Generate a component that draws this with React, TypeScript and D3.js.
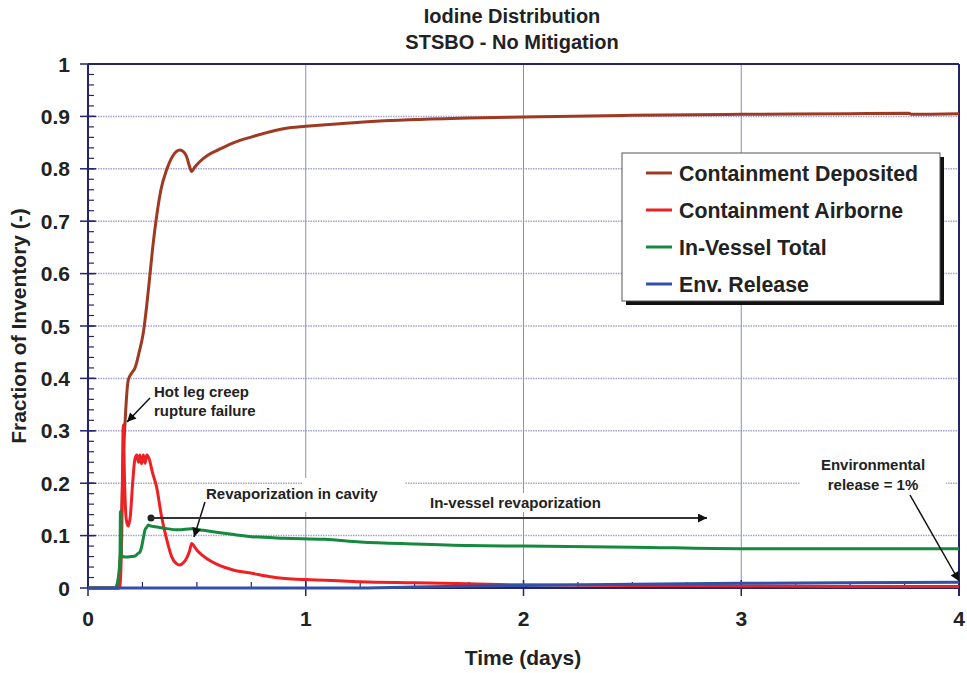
import React from 'react';
import * as d3 from 'd3';

const W = 967;
const H = 673;
const margin = { top: 64, right: 8, bottom: 85, left: 88 };

// [time (days), fraction]
const deposited: [number, number][] = [
  [0, 0], [0.138, 0], [0.15, 0.08], [0.162, 0.25], [0.17, 0.315], [0.178, 0.37], [0.185, 0.397],
  [0.2, 0.41], [0.216, 0.42], [0.235, 0.45], [0.254, 0.487], [0.27, 0.54], [0.285, 0.6],
  [0.3, 0.66], [0.315, 0.709], [0.335, 0.76], [0.361, 0.798], [0.39, 0.825], [0.422, 0.836],
  [0.44, 0.832], [0.453, 0.823], [0.466, 0.805], [0.476, 0.795], [0.49, 0.803], [0.514, 0.814],
  [0.55, 0.826], [0.598, 0.836], [0.67, 0.85], [0.752, 0.861], [0.83, 0.87], [0.905, 0.877],
  [1.0, 0.881], [1.088, 0.884], [1.25, 0.889], [1.5, 0.894], [1.75, 0.897], [2, 0.899],
  [2.5, 0.902], [3, 0.904], [3.5, 0.905], [3.77, 0.906], [3.78, 0.904], [4, 0.905],
];

const airborne: [number, number][] = [
  [0, 0], [0.145, 0], [0.155, 0.1], [0.162, 0.311], [0.168, 0.2], [0.176, 0.13], [0.185, 0.118],
  [0.195, 0.14], [0.205, 0.2], [0.215, 0.245], [0.224, 0.254], [0.232, 0.24], [0.238, 0.254],
  [0.246, 0.237], [0.254, 0.254], [0.262, 0.238], [0.27, 0.254], [0.282, 0.245], [0.295, 0.222],
  [0.315, 0.193], [0.338, 0.136], [0.36, 0.095], [0.384, 0.06], [0.405, 0.047], [0.422, 0.044],
  [0.44, 0.049], [0.453, 0.057], [0.466, 0.07], [0.476, 0.085], [0.49, 0.078], [0.507, 0.069],
  [0.55, 0.055], [0.598, 0.044], [0.67, 0.034], [0.752, 0.028], [0.83, 0.022], [0.905, 0.018],
  [1.0, 0.016], [1.088, 0.015], [1.25, 0.012], [1.5, 0.01], [1.75, 0.008], [2, 0.006],
  [2.5, 0.005], [3, 0.004], [3.5, 0.003], [4, 0.003],
];

const inVessel: [number, number][] = [
  [0, 0], [0.124, 0], [0.135, 0.01], [0.142, 0.03], [0.147, 0.06], [0.149, 0.146], [0.151, 0.146],
  [0.153, 0.062], [0.17, 0.059], [0.2, 0.06], [0.216, 0.061], [0.23, 0.066], [0.239, 0.069],
  [0.247, 0.08], [0.254, 0.095], [0.262, 0.111], [0.27, 0.116], [0.277, 0.12], [0.29, 0.118],
  [0.308, 0.117], [0.35, 0.114], [0.415, 0.111], [0.476, 0.113], [0.53, 0.11], [0.598, 0.106],
  [0.67, 0.102], [0.752, 0.098], [0.9, 0.095], [1.088, 0.093], [1.25, 0.088], [1.5, 0.084],
  [1.75, 0.081], [2, 0.08], [2.5, 0.078], [3, 0.075], [3.5, 0.075], [4, 0.075],
];

const envRelease: [number, number][] = [
  [0, 0], [1.2, 0], [1.5, 0.002], [2, 0.005], [2.5, 0.007], [3, 0.009], [3.5, 0.01], [4, 0.011],
];

const seriesNames = ['Containment Deposited', 'Containment Airborne', 'In-Vessel Total', 'Env. Release'];
const seriesColors = ['#9e3a22', '#ee2024', '#15893d', '#3150a6'];
const seriesData = [deposited, airborne, inVessel, envRelease];

const xTicks = [0, 1, 2, 3, 4];
const yTicks = [0, 0.1, 0.2, 0.3, 0.4, 0.5, 0.6, 0.7, 0.8, 0.9, 1];
const yTickLabels = ['0', '0.1', '0.2', '0.3', '0.4', '0.5', '0.6', '0.7', '0.8', '0.9', '1'];

const FONT = "'Liberation Sans', Arial, Helvetica, sans-serif";
const NAVY = '#24246e';

export default function App() {
  const x = d3.scaleLinear().domain([0, 4]).range([margin.left, W - margin.right]);
  const y = d3.scaleLinear().domain([0, 1]).range([H - margin.bottom, margin.top]);
  const line = d3.line<[number, number]>()
    .x(d => x(d[0]))
    .y(d => y(d[1]))
    .curve(d3.curveMonotoneX);

  const x0 = x(0), x1 = x(4), y0 = y(0), y1 = y(1);
  const minorX = d3.range(0.25, 4, 0.25);
  const minorY = d3.range(0.02, 1, 0.02);

  return (
    <svg width={W} height={H} style={{ position: 'absolute', left: 0, top: 0, background: '#fff' }}
      fontFamily={FONT} fontWeight="bold">
      <defs>
        <marker id="arrow" viewBox="0 0 10 10" refX="10" refY="5" markerWidth="11" markerHeight="9"
          markerUnits="userSpaceOnUse" orient="auto">
          <path d="M0,0 L10,5 L0,10 z" fill="#111" />
        </marker>
      </defs>

      {/* title */}
      <text x={512} y={23} textAnchor="middle" fontSize={20} fill="#222">Iodine Distribution</text>
      <text x={512} y={49} textAnchor="middle" fontSize={20} fill="#222">STSBO - No Mitigation</text>

      {/* grid */}
      {yTicks.slice(1, -1).map(t => (
        <line key={'gy' + t} x1={x0} x2={x1} y1={y(t)} y2={y(t)} stroke="#a4a4d4" strokeWidth={1.5}
          strokeDasharray="1.5,1" />
      ))}
      {xTicks.slice(1, -1).map(t => (
        <line key={'gx' + t} x1={x(t)} x2={x(t)} y1={y1} y2={y0} stroke="#8a8cc4" strokeWidth={1} />
      ))}

      {/* frame */}
      <line x1={x0} x2={x1} y1={y1} y2={y1} stroke={NAVY} strokeWidth={2} />
      <line x1={x1} x2={x1} y1={y1} y2={y0 + 8} stroke={NAVY} strokeWidth={2} />
      <line x1={x0} x2={x0} y1={y1} y2={y0} stroke={NAVY} strokeWidth={2} />
      <line x1={x0} x2={x1} y1={y0} y2={y0} stroke={NAVY} strokeWidth={2} />

      {/* ticks */}
      {minorY.map(t => (
        <line key={'my' + t} x1={x0} x2={x0 + 6} y1={y(t)} y2={y(t)} stroke={NAVY} strokeWidth={1.2} />
      ))}
      {yTicks.map(t => (
        <line key={'ty' + t} x1={x0 - 8} x2={x0 + 8} y1={y(t)} y2={y(t)} stroke={NAVY} strokeWidth={1.5} />
      ))}
      {minorX.map(t => (
        <line key={'mx' + t} x1={x(t)} x2={x(t)} y1={y0} y2={y0 - 6} stroke={NAVY} strokeWidth={1.2} />
      ))}
      {xTicks.map(t => (
        <line key={'tx' + t} x1={x(t)} x2={x(t)} y1={y0 - 8} y2={y0 + 8} stroke={NAVY} strokeWidth={1.5} />
      ))}

      {/* tick labels */}
      {yTicks.map((t, i) => (
        <text key={'ly' + t} x={70} y={y(t)} dy="0.36em" textAnchor="end" fontSize={21} fill="#222">
          {yTickLabels[i]}
        </text>
      ))}
      {xTicks.map(t => (
        <text key={'lx' + t} x={x(t)} y={618} dy="0.36em" textAnchor="middle" fontSize={21} fill="#222">
          {t}
        </text>
      ))}

      {/* axis titles */}
      <text x={523} y={657} dy="0.36em" textAnchor="middle" fontSize={21} fill="#222">Time (days)</text>
      <text transform={`translate(18,${(y0 + y1) / 2}) rotate(-90)`} dy="0.36em" textAnchor="middle"
        fontSize={21} fill="#222">Fraction of Inventory (-)</text>

      {/* annotation backgrounds */}
      <rect x={303} y={478} width={102} height={34} fill="#fff" />
      <rect x={426} y={493} width={182} height={19} fill="#fff" />
      <rect x={800} y={452} width={146} height={44} fill="#fff" />

      {/* series */}
      {seriesData.map((d, i) => (
        <path key={seriesNames[i]} d={line(d) ?? ''} fill="none" stroke={seriesColors[i]} strokeWidth={3}
          strokeLinejoin="round" />
      ))}

      {/* annotations */}
      <text x={154} y={397} fontSize={15} fill="#222">Hot leg creep</text>
      <text x={154} y={416} fontSize={15} fill="#222">rupture failure</text>
      <line x1={150} y1={398} x2={127} y2={422} stroke="#111" strokeWidth={1.5} markerEnd="url(#arrow)" />

      <text x={206} y={499} fontSize={15} fill="#222">Revaporization in cavity</text>
      <line x1={205} y1={502} x2={194} y2={537} stroke="#111" strokeWidth={1.5} markerEnd="url(#arrow)" />

      <text x={430} y={508} fontSize={15} fill="#222">In-vessel revaporization</text>
      <circle cx={151} cy={518} r={3.5} fill="#222" />
      <line x1={151} y1={518} x2={707} y2={518} stroke="#333" strokeWidth={2} markerEnd="url(#arrow)" />

      <text x={873} y={470} textAnchor="middle" fontSize={15} fill="#222">Environmental</text>
      <text x={873} y={490} textAnchor="middle" fontSize={15} fill="#222">release = 1%</text>
      <line x1={910} y1={495} x2={959} y2={581} stroke="#111" strokeWidth={1.5} markerEnd="url(#arrow)" />

      {/* legend */}
      <rect x={626} y={157} width={318} height={148} fill="#111" />
      <rect x={622} y={153} width={318} height={148} fill="#fff" stroke="#555" strokeWidth={1} />
      {seriesNames.map((name, i) => {
        const ry = 173 + i * 37;
        return (
          <g key={'lg' + name}>
            <line x1={646} x2={672} y1={ry} y2={ry} stroke={seriesColors[i]} strokeWidth={3} />
            <text x={679} y={ry} dy="0.36em" fontSize={21.3} fill="#222">{name}</text>
          </g>
        );
      })}
    </svg>
  );
}
